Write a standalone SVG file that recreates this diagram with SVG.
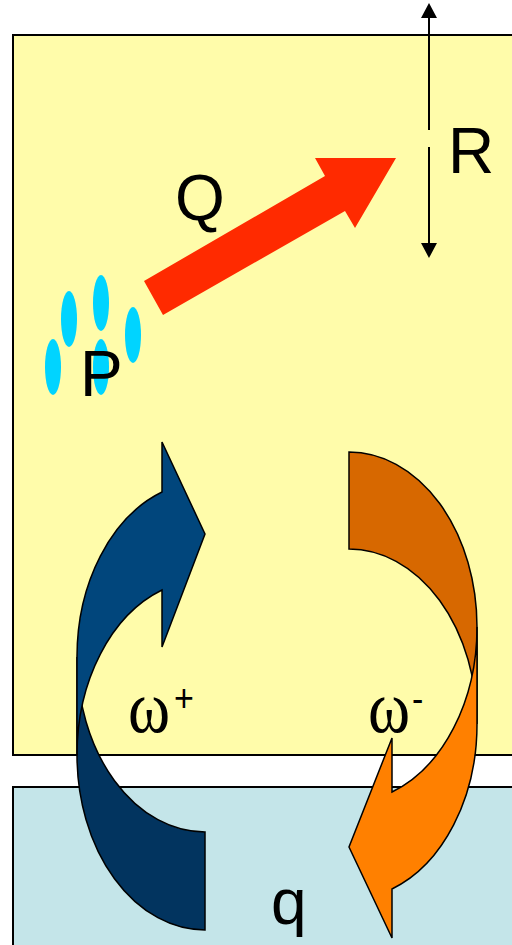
<svg xmlns="http://www.w3.org/2000/svg" width="512" height="945" viewBox="0 0 512 945">
  <defs>
    <style>
      .panel { stroke: #000; stroke-width: 2; }
      .lbl { font-family: "Liberation Sans", Arial, sans-serif; font-size: 64px; fill: #000; }
      .om { font-family: "Liberation Serif", "Times New Roman", serif; font-size: 64px; fill: #000; }
      .sup { font-family: "Liberation Sans", Arial, sans-serif; font-size: 34px; }
      .curv { stroke: #000; stroke-width: 1.5; stroke-linejoin: miter; }
      .dot { fill: #00D4FF; }
      .dim { stroke: #000; stroke-width: 2; fill: none; }
    </style>
    <marker id="head" markerUnits="userSpaceOnUse" markerWidth="16" markerHeight="16" refX="0" refY="8" orient="auto-start-reverse">
      <path d="M0,0 L15,8 L0,16 Z" fill="#000"/>
    </marker>
  </defs>

  <g id="upper-region">
    <rect class="panel" x="13" y="35" width="520" height="720" fill="#FFFCAA"/>
  </g>
  <g id="lower-region">
    <rect class="panel" x="13" y="787" width="520" height="200" fill="#C4E5E9"/>
  </g>

  <g id="P">
    <ellipse class="dot" cx="69" cy="319" rx="8" ry="28"/>
    <ellipse class="dot" cx="101" cy="303" rx="8" ry="28"/>
    <ellipse class="dot" cx="133" cy="335" rx="8" ry="28"/>
    <ellipse class="dot" cx="53" cy="367" rx="8" ry="28"/>
    <ellipse class="dot" cx="101" cy="367" rx="8" ry="28"/>
    <text class="lbl" x="80" y="396">P</text>
  </g>

  <g id="Q">
    <polygon points="144,281 325,176 315,158 396,158 355,228 345,211 163,315" fill="#FF2A00"/>
    <text class="lbl" x="175" y="220">Q</text>
  </g>

  <g id="R">
    <text class="lbl" x="448" y="173">R</text>
  </g>

  <g id="connectors">
    <line class="dim" x1="429" y1="18" x2="429" y2="130" marker-start="url(#head)"/>
    <line class="dim" x1="429" y1="147" x2="429" y2="243" marker-end="url(#head)"/>
  </g>

  <g id="omega-plus">
    <path class="curv" fill="#02345F" d="M205,930 A128,175 0 0 1 77,755 L77,657 A128,175 0 0 0 205,832 Z"/>
    <path class="curv" fill="#01467C" d="M162,492 L162,442 L205,534 L162,647 L162,590 A128,175 0 0 0 77,755 L77,657 A128,175 0 0 1 162,492 Z"/>
    <text class="om" transform="translate(128,732) scale(1,1.15)" x="0" y="0">ω<tspan class="sup" x="46" y="-18">+</tspan></text>
  </g>

  <g id="omega-minus">
    <path class="curv" fill="#D76800" d="M349,452 A128,175 0 0 1 477,627 L477,724 A128,175 0 0 0 349,549 Z"/>
    <path class="curv" fill="#FF8000" d="M392,889 L392,938 L349,847 L392,738 L392,792 A128,175 0 0 0 477,627 L477,724 A128,175 0 0 1 392,889 Z"/>
    <text class="om" transform="translate(368,732) scale(1,1.15)" x="0" y="0">ω<tspan class="sup" x="44" y="-17">-</tspan></text>
  </g>

  <g id="q">
    <text class="lbl" x="271" y="924">q</text>
  </g>
</svg>
